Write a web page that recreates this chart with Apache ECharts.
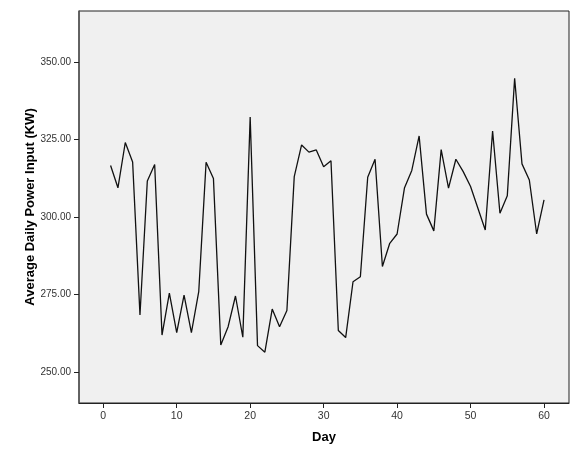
<!DOCTYPE html>
<html>
<head>
<meta charset="utf-8">
<script src="https://cdn.jsdelivr.net/npm/echarts@6/dist/echarts.min.js"></script>
<style>
  html, body { margin: 0; padding: 0; background: #fff; }
  #main { width: 580px; height: 464px; }
</style>
</head>
<body>
<div id="main"></div>
<script>
// day numbers and daily average power (KW)
var days = [];
for (var i = 1; i <= 60; i++) days.push(i);
var power = [
  316.6, 309.4, 324.0, 317.7, 268.4, 311.6, 316.9, 261.9, 275.4, 262.7,
  274.8, 262.7, 275.9, 317.6, 312.4, 258.7, 264.6, 274.5, 261.2, 332.2,
  258.5, 256.4, 270.3, 264.6, 269.8, 313.0, 323.2, 320.9, 321.6, 316.2,
  318.1, 263.4, 261.1, 279.1, 280.7, 312.8, 318.6, 284.0, 291.5, 294.5,
  309.3, 315.0, 326.1, 300.9, 295.5, 321.7, 309.3, 318.6, 314.6, 309.8,
  302.8, 295.8, 327.7, 301.2, 306.8, 344.7, 317.1, 311.9, 294.5, 305.5
];
var xTicks = [0, 10, 20, 30, 40, 50, 60];
var yTicks = [250, 275, 300, 325, 350];

var points = days.map(function (d, i) { return [d, power[i]]; });

var myChart = echarts.init(document.getElementById('main'));
myChart.setOption({
    backgroundColor: '#fff',
    animation: false,
    grid: {
        left: 79, top: 11, right: 11, bottom: 61,
        show: true,
        backgroundColor: '#f0f0f0',
        borderColor: '#222',
        borderWidth: 1
    },
    xAxis: {
        type: 'value',
        min: -3.3,
        max: 63.4,
        name: 'Day',
        nameLocation: 'middle',
        nameGap: 28,
        nameMoveOverlap: false,
        nameTextStyle: { fontFamily: 'Liberation Sans', fontWeight: 'bold', fontSize: 13, color: '#000' },
        splitLine: { show: false },
        axisLine: { onZero: false, lineStyle: { color: '#222', width: 1 } },
        axisTick: { show: true, length: 5, customValues: xTicks, lineStyle: { color: '#222' } },
        axisLabel: { customValues: xTicks, margin: 8, fontFamily: 'Liberation Sans', fontSize: 10.5, color: '#333' }
    },
    yAxis: {
        type: 'value',
        min: 240,
        max: 366.4,
        name: 'Average Daily Power Input (KW)',
        nameLocation: 'middle',
        nameGap: 42,
        nameMoveOverlap: false,
        nameTextStyle: { fontFamily: 'Liberation Sans', fontWeight: 'bold', fontSize: 13, color: '#000' },
        splitLine: { show: false },
        axisLine: { onZero: false, lineStyle: { color: '#555', width: 1.5 } },
        axisTick: { show: true, length: 5, customValues: yTicks, lineStyle: { color: '#222' } },
        axisLabel: {
            customValues: yTicks, margin: 8, fontFamily: 'Liberation Sans', fontSize: 10, color: '#333',
            formatter: function (v) { return v.toFixed(2); }
        }
    },
    series: [{
        type: 'line',
        data: points,
        showSymbol: false,
        lineStyle: { color: '#111', width: 1.3 }
    }]
});
</script>
</body>
</html>
